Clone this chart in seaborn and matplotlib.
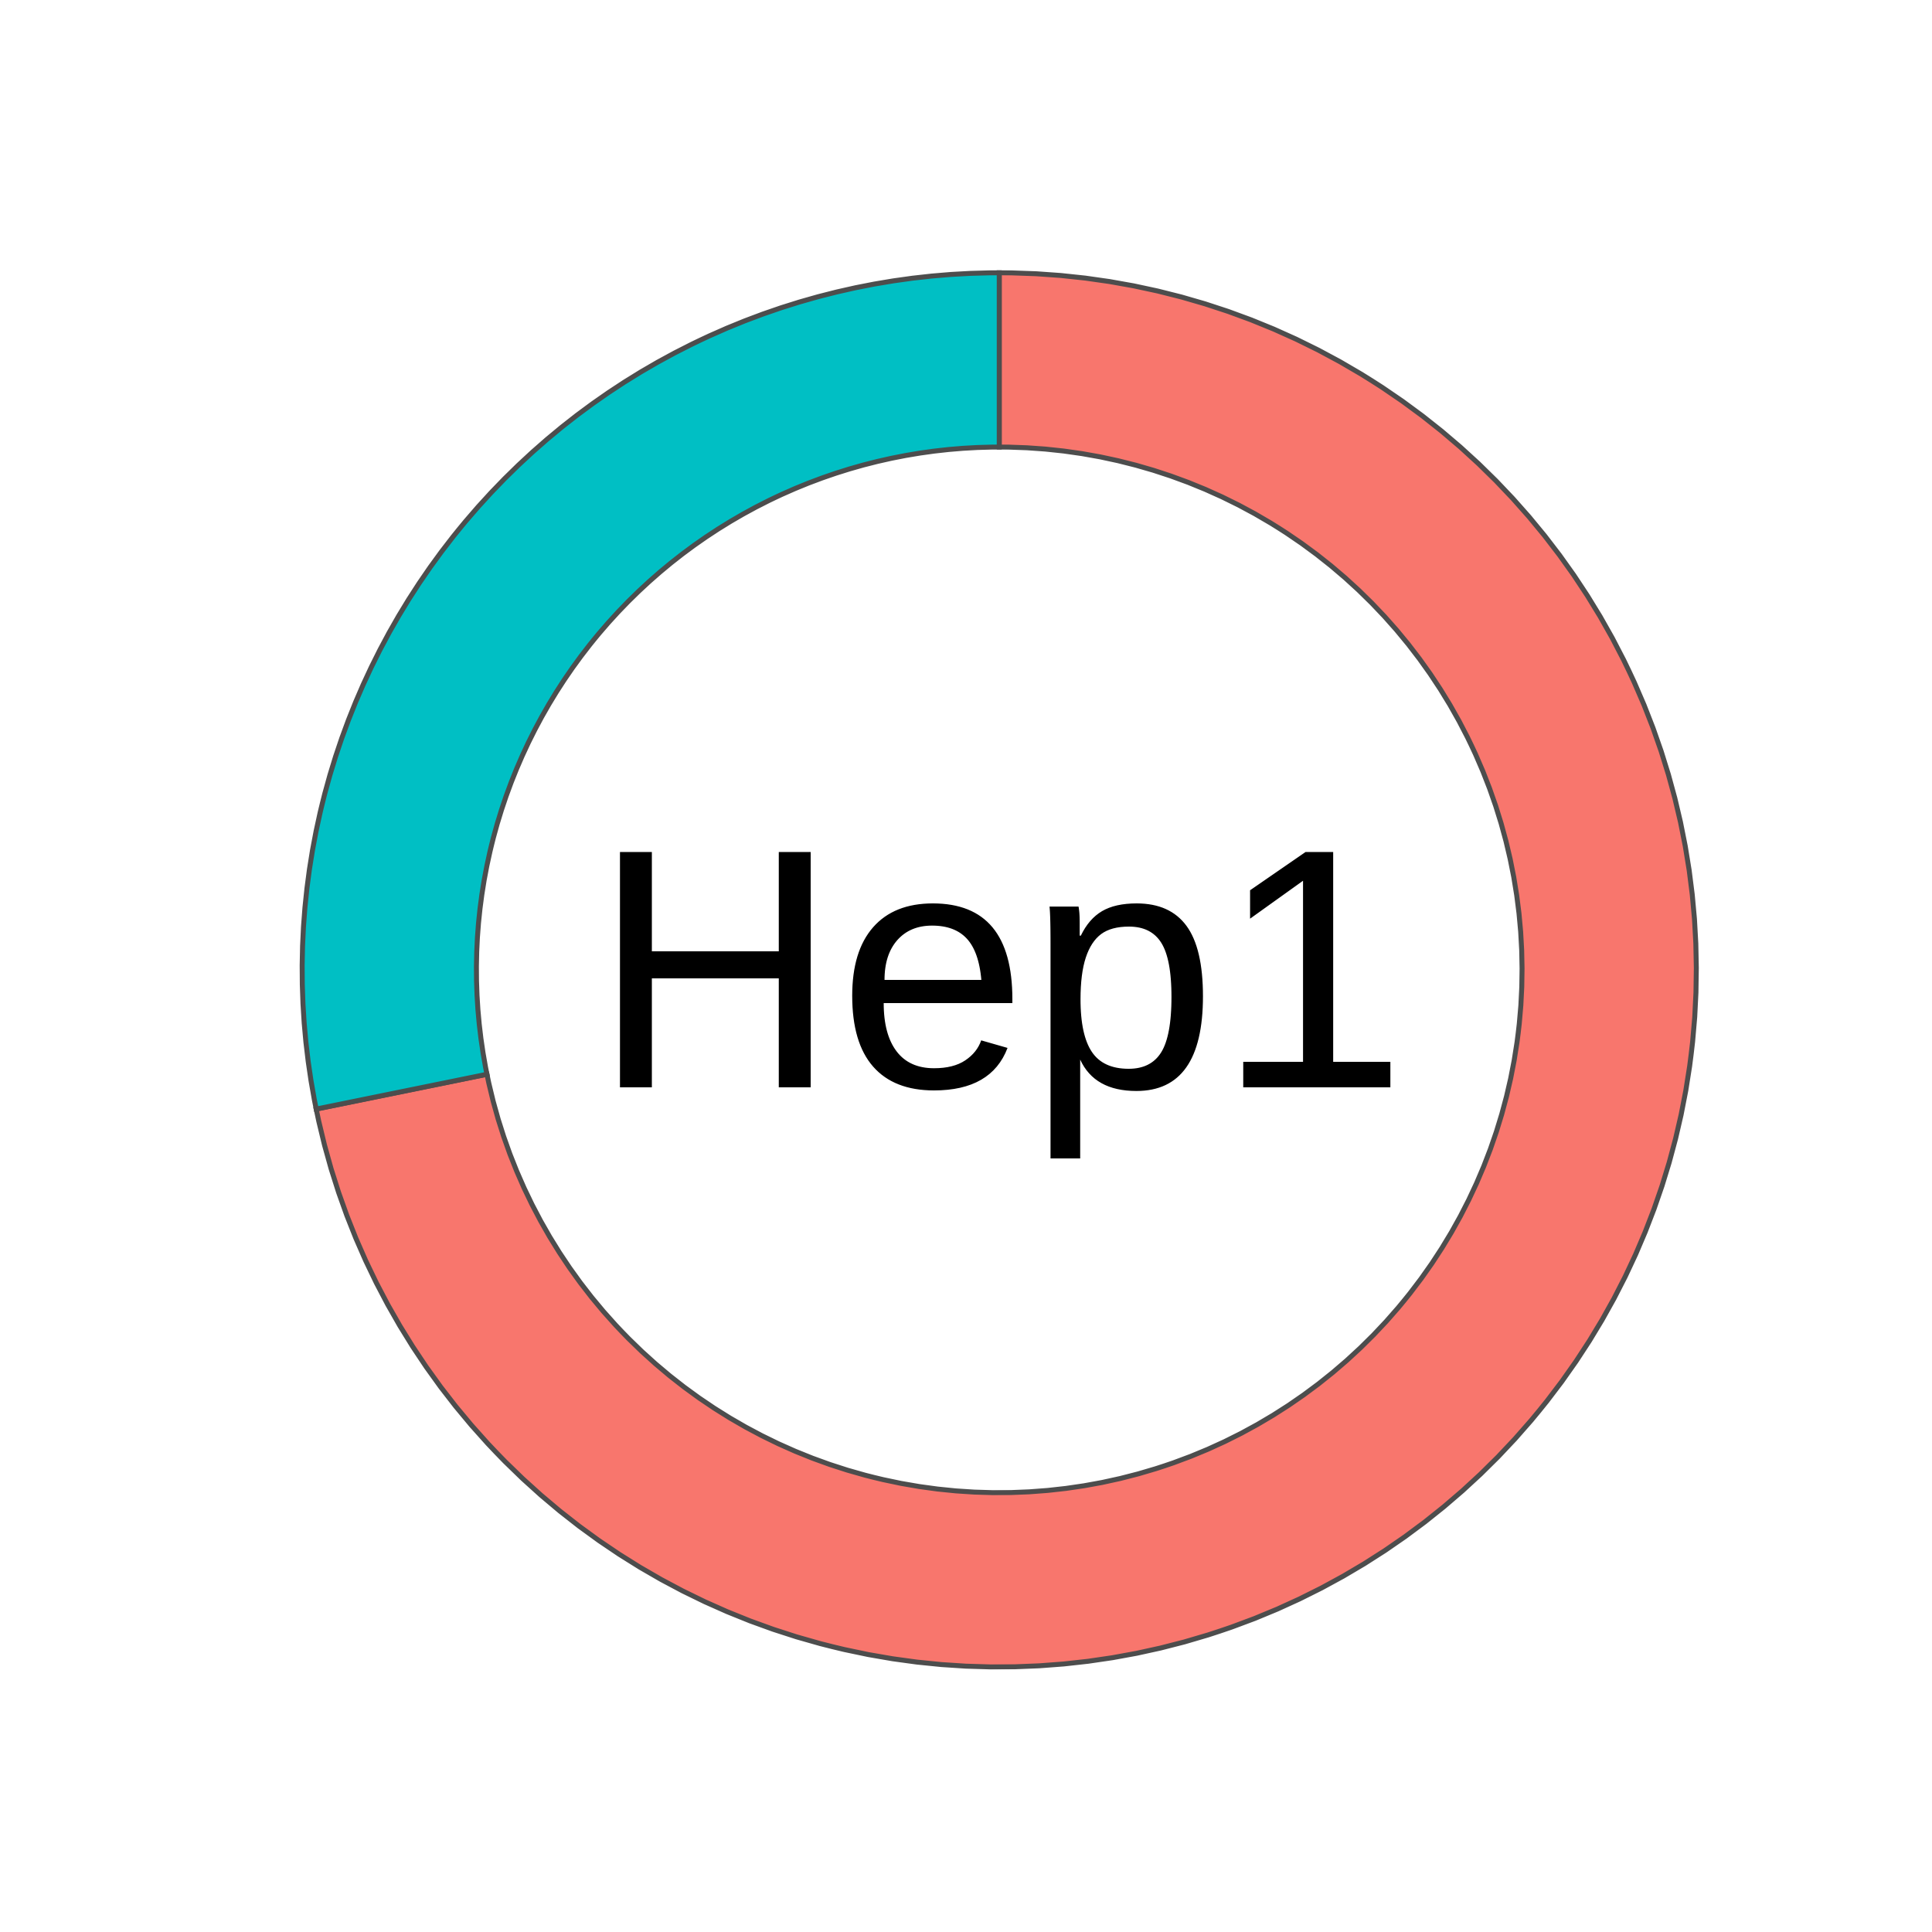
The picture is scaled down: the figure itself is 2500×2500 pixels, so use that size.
"""Donut chart of Hep1 composition."""

import matplotlib
matplotlib.use("Agg")
import matplotlib.pyplot as plt
import seaborn as sns

LABEL = "Hep1"
GROUPS = ["group_a", "group_b"]
SHARES = [71.8, 28.2]
COLORS = ["#F8766D", "#00BFC4"]

sns.set_theme(style="white")
plt.rcParams["font.family"] = ["Liberation Sans", "DejaVu Sans"]

W = H = 2500
cx, cy, r = 1293, 1255, 902
lim = 1.1
span = 2 * lim * r

fig = plt.figure(figsize=(25, 25), dpi=100)
ax = fig.add_axes([(cx - lim * r) / W, (H - cy - lim * r) / H, span / W, span / H])

palette = sns.color_palette(COLORS)
ax.pie(
    SHARES,
    colors=palette,
    startangle=90,
    counterclock=False,
    radius=1,
    wedgeprops=dict(width=0.25, edgecolor="#4D4D4D", linewidth=4.6),
)
ax.text(0.001, -0.169, LABEL, ha="center", va="baseline", fontsize=318, color="black")
ax.set_xlim(-lim, lim)
ax.set_ylim(-lim, lim)
ax.set_aspect("equal")
ax.axis("off")

fig.savefig("out.png", dpi=100, facecolor="white")
